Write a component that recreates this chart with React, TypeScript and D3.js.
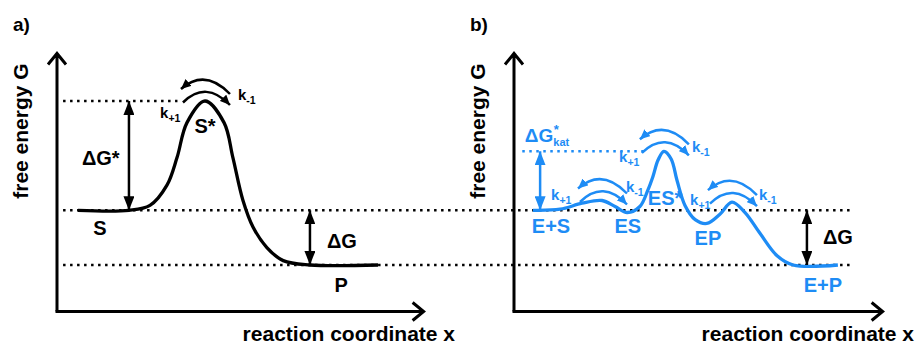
import React, { useEffect, useRef } from "react";
import * as d3 from "d3";

const BLUE = "#1e8cf5";
const FONT = "'Liberation Sans', Arial, Helvetica, sans-serif";

// reaction coordinate (0..100) and free energy (S = 0, P = -1)
const coordA = [5.5, 19.6, 25.4, 30.1, 32.9, 35.6, 40.6, 45.9, 48.3, 51.1, 53.9, 57.7, 62.2, 69.6, 88.4];
const energyA = [0, 0, 0.09, 0.46, 0.97, 1.6, 2.0, 1.6, 0.97, 0.18, -0.31, -0.68, -0.92, -1.0, -1.0];

const coordB = [4.9, 12.4, 18.4, 23.9, 27.5, 30.8, 34.3, 36.5, 37.9, 39.3, 40.9, 42.9, 44.5, 46.7, 49.5, 52.7, 56.3, 59.6, 63.2, 67.3, 72.0, 76.4, 88.7];
const energyB = [0, 0.02, 0.13, 0.18, 0.07, -0.04, 0.07, 0.37, 0.62, 0.92, 1.08, 0.94, 0.55, 0.09, -0.17, -0.24, -0.07, 0.15, -0.04, -0.42, -0.83, -1.0, -1.0];

const levelS = 0;
const levelP = -1;
const barrierA = 2.0;
const barrierB = 1.08;

// state names
const statesA = [
  { t: "S", x: 11.6, g: -0.46, anchor: "middle" },
  { t: "S*", x: 40.6, g: 1.41, anchor: "middle" },
  { t: "P", x: 78.2, g: -1.5, anchor: "middle" },
  { t: "\u0394G*", x: 6.6, g: 0.83, anchor: "start" },
  { t: "\u0394G", x: 74.3, g: -0.68, anchor: "start" },
];
const statesB = [
  { t: "E+S", x: 9.9, g: -0.42, anchor: "middle" },
  { t: "ES", x: 31.0, g: -0.42, anchor: "middle" },
  { t: "ES*", x: 36.5, g: 0.09, anchor: "start" },
  { t: "EP", x: 53.0, g: -0.64, anchor: "middle" },
  { t: "E+P", x: 84.6, g: -1.5, anchor: "middle" },
];
const deltaGB = { x: 84.6, g: -0.61 };
const deltaGkat = { x: 2.7, g: 1.25 };

// rate constant labels
const ratesA = [
  { sub: "+1", x: 28.2, g: 1.69 },
  { sub: "-1", x: 49.7, g: 2.02 },
];
const ratesB = [
  { sub: "+1", x: 9.9, g: 0.18 },
  { sub: "-1", x: 30.5, g: 0.33 },
  { sub: "+1", x: 28.6, g: 0.88 },
  { sub: "-1", x: 48.6, g: 1.06 },
  { sub: "+1", x: 48.1, g: 0.09 },
  { sub: "-1", x: 67.0, g: 0.18 },
];

// double arrows for the energy differences
const gapA = [
  { x: 19.6, g0: levelS, g1: barrierA, c: "black" },
  { x: 69.6, g0: levelS, g1: levelP, c: "black" },
];
const gapB = [
  { x: 6.9, g0: levelS, g1: barrierB, c: BLUE },
  { x: 80.2, g0: levelS, g1: levelP, c: "black" },
];

export default function App() {
  const ref = useRef<SVGSVGElement>(null);

  useEffect(() => {
    const svg = d3.select(ref.current);
    svg.selectAll("*").remove();

    const defs = svg.append("defs");
    const addHead = (id, color, len, wid) => {
      defs
        .append("marker")
        .attr("id", id)
        .attr("markerUnits", "userSpaceOnUse")
        .attr("markerWidth", len)
        .attr("markerHeight", wid)
        .attr("refX", len)
        .attr("refY", wid / 2)
        .attr("orient", "auto-start-reverse")
        .append("path")
        .attr("d", `M0,0 L${len},${wid / 2} L0,${wid} Z`)
        .attr("fill", color);
    };
    addHead("bigBlack", "black", 14, 11);
    addHead("bigBlue", BLUE, 14, 11);
    addHead("smBlack", "black", 10, 9);
    addHead("smBlue", BLUE, 10, 9);

    const y = d3.scaleLinear().domain([levelP, barrierA]).range([265, 101]);
    const xA = d3.scaleLinear().domain([0, 100]).range([58, 420]);
    const xB = d3.scaleLinear().domain([0, 100]).range([515, 879]);

    // dotted reference levels across both panels
    const dots = (x1, x2, g, color) =>
      svg
        .append("line")
        .attr("x1", x1)
        .attr("x2", x2)
        .attr("y1", y(g))
        .attr("y2", y(g))
        .attr("stroke", color)
        .attr("stroke-width", 2.5)
        .attr("stroke-dasharray", "2.5,4.5");
    dots(xA(1.4), xB(92.6), levelS, "black");
    dots(xA(1.4), xB(92.6), levelP, "black");
    dots(xA(1.4), xA(33), barrierA, "black");
    dots(xB(2), xB(36), barrierB, BLUE);

    const drawPanel = (x, coords, energies, color, states, rates, gaps, tag) => {
      const g = svg.append("g");
      const ox = x(0) - 1;
      const yBot = y(-1.85);
      const yTop = y(2.87);
      const xEnd = x(101);

      // axes with open arrow heads
      g.append("path")
        .attr("d", `M${ox},${yBot} L${ox},${yTop} M${ox - 9},${yTop + 11} L${ox},${yTop} L${ox + 9},${yTop + 11}`)
        .attr("fill", "none")
        .attr("stroke", "black")
        .attr("stroke-width", 3);
      g.append("path")
        .attr("d", `M${ox - 1.5},${yBot} L${xEnd},${yBot} M${xEnd - 11},${yBot - 9} L${xEnd},${yBot} L${xEnd - 11},${yBot + 9}`)
        .attr("fill", "none")
        .attr("stroke", "black")
        .attr("stroke-width", 3);

      g.append("text")
        .attr("transform", `translate(${ox - 29},${y(1.45)}) rotate(-90)`)
        .attr("text-anchor", "middle")
        .attr("font-family", FONT)
        .attr("font-weight", "bold")
        .attr("font-size", 21)
        .text("free energy G");
      g.append("text")
        .attr("x", x(100) + 35)
        .attr("y", 341)
        .attr("text-anchor", "end")
        .attr("font-family", FONT)
        .attr("font-weight", "bold")
        .attr("font-size", 21)
        .text("reaction coordinate x");
      g.append("text")
        .attr("x", ox - 44)
        .attr("y", 31)
        .attr("font-family", FONT)
        .attr("font-weight", "bold")
        .attr("font-size", 19)
        .text(tag);

      // energy profile
      const pts = coords.map((c, i) => [c, energies[i]]);
      const line = d3
        .line()
        .x((d) => x(d[0]))
        .y((d) => y(d[1]))
        .curve(d3.curveCatmullRom.alpha(0.5));
      g.append("path")
        .attr("d", line(pts))
        .attr("fill", "none")
        .attr("stroke", color)
        .attr("stroke-width", 3.3);

      // forward / backward arrows over each barrier
      const head = color === BLUE ? "url(#smBlue)" : "url(#smBlack)";
      pts.forEach((p, i) => {
        if (i === 0 || i === pts.length - 1) return;
        if (!(p[1] > pts[i - 1][1] && p[1] >= pts[i + 1][1])) return;
        const px = x(p[0]);
        const py = y(p[1]);
        g.append("path")
          .attr("d", `M${px + 25},${py - 7} Q${px},${py - 33} ${px - 24},${py - 12}`)
          .attr("fill", "none")
          .attr("stroke", color)
          .attr("stroke-width", 2.5)
          .attr("marker-end", head);
        g.append("path")
          .attr("d", `M${px - 22},${py + 1.5} Q${px + 1},${py - 21} ${px + 25},${py + 4}`)
          .attr("fill", "none")
          .attr("stroke", color)
          .attr("stroke-width", 2.5)
          .attr("marker-end", head);
      });

      gaps.forEach((d) => {
        g.append("line")
          .attr("x1", x(d.x))
          .attr("x2", x(d.x))
          .attr("y1", y(d.g0))
          .attr("y2", y(d.g1))
          .attr("stroke", d.c)
          .attr("stroke-width", 2.5)
          .attr("marker-start", d.c === BLUE ? "url(#bigBlue)" : "url(#bigBlack)")
          .attr("marker-end", d.c === BLUE ? "url(#bigBlue)" : "url(#bigBlack)");
      });

      states.forEach((s) => {
        g.append("text")
          .attr("x", x(s.x))
          .attr("y", y(s.g))
          .attr("text-anchor", s.anchor)
          .attr("font-family", FONT)
          .attr("font-weight", "bold")
          .attr("font-size", 20)
          .attr("fill", s.t.startsWith("\u0394") ? "black" : color)
          .text(s.t);
      });

      rates.forEach((r) => {
        const t = g
          .append("text")
          .attr("x", x(r.x))
          .attr("y", y(r.g))
          .attr("font-family", FONT)
          .attr("font-weight", "bold")
          .attr("font-size", 15)
          .attr("fill", color);
        t.append("tspan").text("k");
        t.append("tspan").attr("dy", 4).attr("font-size", 10.5).text(r.sub);
      });
      return g;
    };

    drawPanel(xA, coordA, energyA, "black", statesA, ratesA, gapA, "a)");
    const gb = drawPanel(xB, coordB, energyB, BLUE, statesB, ratesB, gapB, "b)");

    gb.append("text")
      .attr("x", xB(deltaGB.x))
      .attr("y", y(deltaGB.g))
      .attr("font-family", FONT)
      .attr("font-weight", "bold")
      .attr("font-size", 20)
      .text("\u0394G");

    // ΔG*kat with stacked super- and subscript
    const kx = xB(deltaGkat.x);
    const ky = y(deltaGkat.g);
    const kat = gb
      .append("g")
      .attr("font-family", FONT)
      .attr("font-weight", "bold")
      .attr("fill", BLUE);
    kat.append("text").attr("x", kx).attr("y", ky).attr("font-size", 19).text("\u0394G");
    kat.append("text").attr("x", kx + 29).attr("y", ky - 8).attr("font-size", 13).text("*");
    kat.append("text").attr("x", kx + 28.5).attr("y", ky + 4).attr("font-size", 11).text("kat");
  }, []);

  return (
    <svg
      ref={ref}
      width={917}
      height={345}
      style={{ position: "absolute", left: 0, top: 0, background: "white" }}
    />
  );
}
